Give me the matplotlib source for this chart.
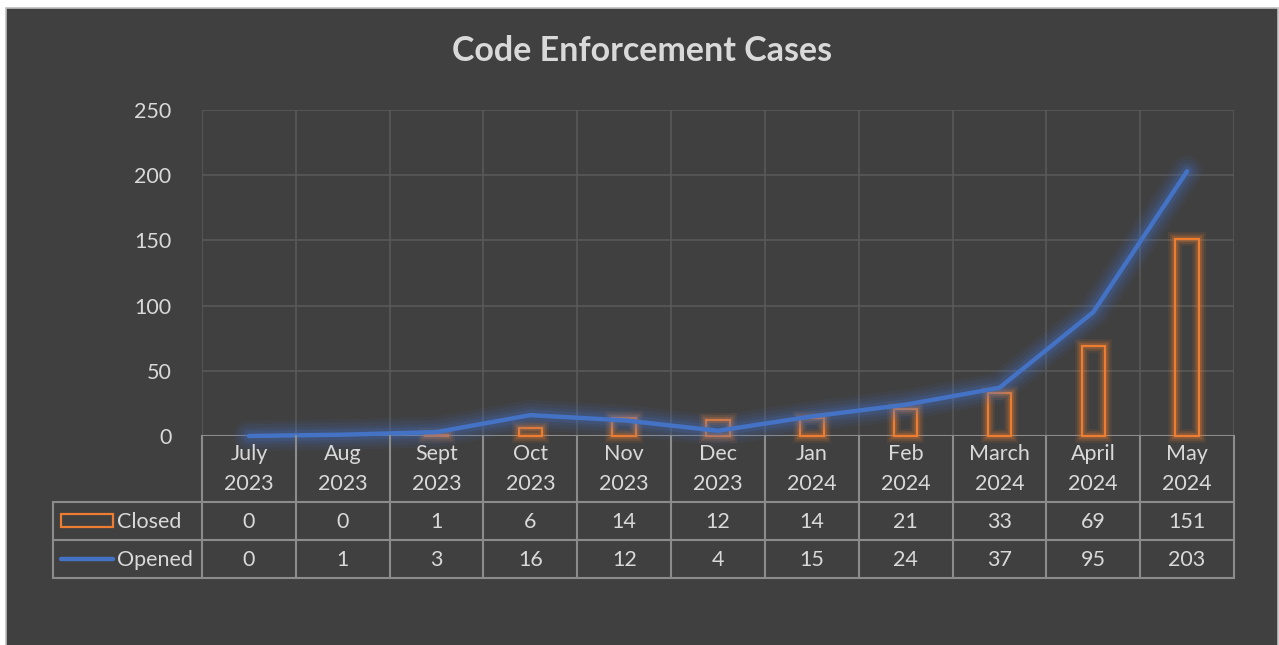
import matplotlib
matplotlib.use("Agg")
import matplotlib.pyplot as plt
from matplotlib.patches import Rectangle
from matplotlib.lines import Line2D
import numpy as np

months = ["July", "Aug", "Sept", "Oct", "Nov", "Dec", "Jan", "Feb", "March", "April", "May"]
years = ["2023", "2023", "2023", "2023", "2023", "2023", "2024", "2024", "2024", "2024", "2024"]
closed = [0, 0, 1, 6, 14, 12, 14, 21, 33, 69, 151]
opened = [0, 1, 3, 16, 12, 4, 15, 24, 37, 95, 203]
yticks = [0, 50, 100, 150, 200, 250]
title = "Code Enforcement Cases"

W, H = 1279, 645
BG = "#404040"
TXT = "#d9d9d9"
GRID = "#595959"
TBL = "#8c8c8c"
ORANGE = "#ED7D31"
BLUE = "#4472C4"
FONT = "Lato"

plt.rcParams['font.family'] = [FONT, 'DejaVu Sans']

fig = plt.figure(figsize=(W / 100, H / 100), dpi=100, facecolor="white")

def fx(px):
    return px / W

def fy(py):
    return 1 - py / H

# dark chart area
bgpatch = Rectangle((fx(6), -0.01), fx(1278) - fx(6), fy(8) + 0.01, transform=fig.transFigure,
                    facecolor=BG, edgecolor="#bfbfbf", linewidth=1.2, zorder=-10)
fig.patches.append(bgpatch)

L, R, T, B = 202, 1234, 110, 436
ax = fig.add_axes([fx(L), fy(B), fx(R) - fx(L), fy(T) - fy(B)])
ax.set_zorder(1)
ax.set_facecolor("none")
n = len(months)
x = np.arange(n)
ax.set_xlim(-0.5, n - 0.5)
ax.set_ylim(0, 250)
for s in ax.spines.values():
    s.set_visible(False)
ax.set_xticks([])
ax.set_yticks(yticks)
ax.set_yticklabels([str(v) for v in yticks], color=TXT, fontsize=15.5)
ax.tick_params(axis="y", length=0, pad=22)
for v in yticks[1:]:
    ax.axhline(v, color=GRID, lw=1.2, zorder=0)
for b in np.arange(-0.5, n, 1.0):
    ax.axvline(b, color=GRID, lw=1.2, zorder=0)
ax.axhline(0, color=TBL, lw=1.5, zorder=1)

# bars with glow
bw = 0.25
for i, v in enumerate(closed):
    if v <= 0:
        continue
    for lw, a in [(10, 0.10), (7, 0.15), (4.5, 0.22)]:
        ax.add_patch(Rectangle((i - bw / 2, 0), bw, v, facecolor="none", edgecolor=ORANGE,
                               lw=lw, alpha=a, zorder=2, clip_on=False))
    ax.add_patch(Rectangle((i - bw / 2, 0), bw, v, facecolor="none", edgecolor=ORANGE,
                           lw=1.6, zorder=3, clip_on=False))

# line with glow
for lw, a in [(22, 0.08), (17, 0.10), (12, 0.13), (8, 0.18)]:
    ax.plot(x, opened, color=BLUE, lw=lw, alpha=a, solid_capstyle="round",
            solid_joinstyle="round", zorder=4, clip_on=False)
ax.plot(x, opened, color=BLUE, lw=3.2, solid_capstyle="round", solid_joinstyle="round",
        zorder=5, clip_on=False)

fig.text(fx(642), fy(51), title, ha="center", va="center", color=TXT, fontsize=24.5,
         fontweight="bold")

# data table
r0, r1, r2, r3 = 436, 502, 540, 578
LL = 53
cw = (R - L) / n

def hline(y, x0, x1):
    fig.add_artist(Line2D([fx(x0), fx(x1)], [fy(y), fy(y)], color=TBL, lw=1.5))

def vline(xp, y0, y1):
    fig.add_artist(Line2D([fx(xp), fx(xp)], [fy(y0), fy(y1)], color=TBL, lw=1.5))

for yy in (r1, r2, r3):
    hline(yy, LL, R)
vline(LL, r1, r3)
for i in range(n + 1):
    vline(L + i * cw, r0, r3)

fs = 15.5
for i in range(n):
    cx = fx(L + (i + 0.5) * cw)
    fig.text(cx, fy(454), months[i], ha="center", va="center", color=TXT, fontsize=fs)
    fig.text(cx, fy(484), years[i], ha="center", va="center", color=TXT, fontsize=fs)
    fig.text(cx, fy((r1 + r2) / 2 + 1), str(closed[i]), ha="center", va="center", color=TXT, fontsize=fs)
    fig.text(cx, fy((r2 + r3) / 2 + 1), str(opened[i]), ha="center", va="center", color=TXT, fontsize=fs)

# legend keys
fig.add_artist(Rectangle((fx(61), fy(527)), fx(113) - fx(61), fy(514) - fy(527),
                         transform=fig.transFigure, facecolor="none", edgecolor=ORANGE, lw=1.6))
fig.add_artist(Line2D([fx(61), fx(113)], [fy(559), fy(559)], color=BLUE, lw=3.2, solid_capstyle="round"))
fig.text(fx(117), fy((r1 + r2) / 2 + 1), "Closed", ha="left", va="center", color=TXT, fontsize=fs)
fig.text(fx(117), fy((r2 + r3) / 2 + 1), "Opened", ha="left", va="center", color=TXT, fontsize=fs)

fig.savefig("out.png", dpi=100, facecolor=fig.get_facecolor())
